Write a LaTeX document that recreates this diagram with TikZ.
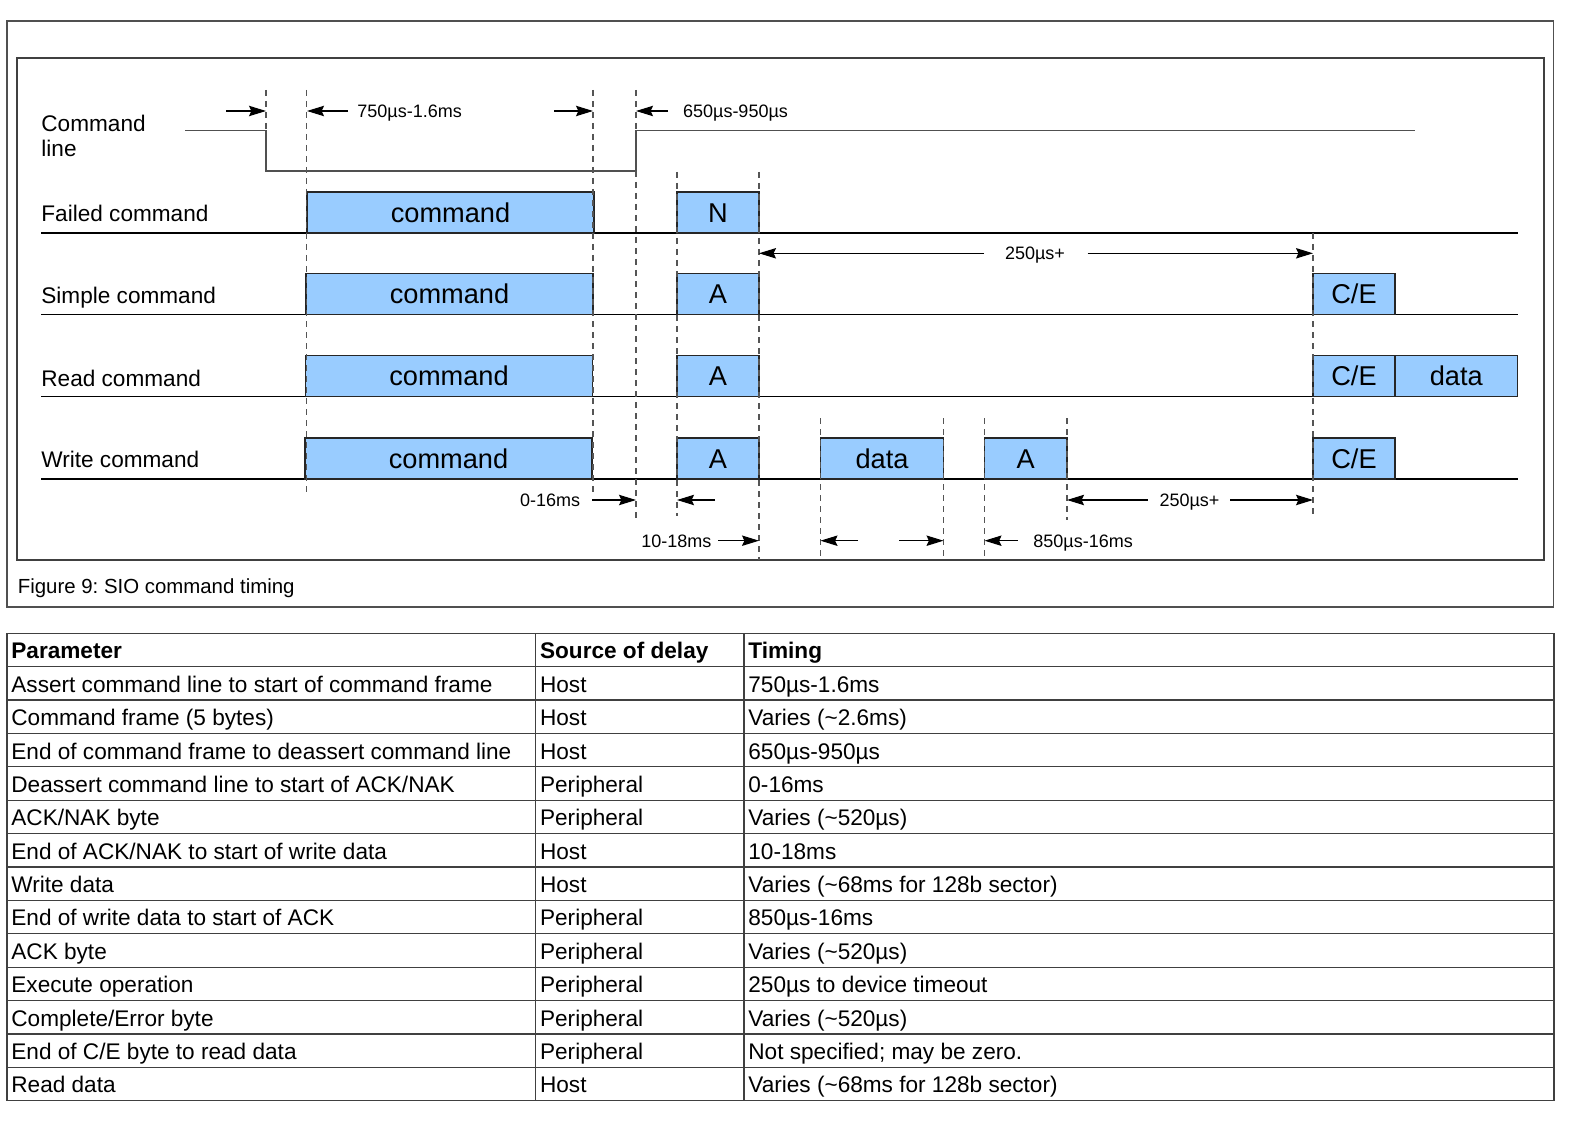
\documentclass[tikz,border=0pt]{standalone}
\usepackage{fontspec}
\setmainfont{Liberation Sans}
\usetikzlibrary{arrows.meta}
\frenchspacing
\definecolor{boxblue}{HTML}{99CCFF}
\definecolor{framegray}{HTML}{505050}
\definecolor{siggray}{HTML}{505050}
\definecolor{guidegray}{HTML}{555555}
\newcommand\blkbox[5]{\node[blk, minimum width={(#3-#2)*0.5pt}] (#1) at ({(#2+#3)/2},{#4-20.5}) {#5};}
\newcommand\guideline[4]{\coordinate (#1a) at (#2,#3); \coordinate (#1b) at (#2,#4); \draw[guide] (#1a) -- (#1b);}
\newcommand\dimarrow[4]{\coordinate (#1s) at (#2,#4); \coordinate (#1e) at (#3,#4); \draw[dimarr] (#1s) -- (#1e);}
\newcommand\trow[4]{%
  \node[tcell] (tp#1) at (11,{633.3+(#1+0.5)*33.386+0.8}) {#2};
  \node[tcell] (ts#1) at (539.7,{633.3+(#1+0.5)*33.386+0.8}) {#3};
  \node[tcell] (tt#1) at (748,{633.3+(#1+0.5)*33.386+0.8}) {#4};}
\begin{document}
\begin{tikzpicture}[x=0.5pt,y=-0.5pt,
  frame/.style={draw=framegray, line width=0.65pt},
  sig/.style={draw=siggray, line width=0.75pt},
  baseln/.style={draw=black, line width=0.6pt},
  guide/.style={draw=guidegray, line width=0.6pt, dash pattern=on 3pt off 2.5pt},
  blk/.style={draw=black!85, line width=0.6pt, fill=boxblue, inner sep=0pt, outer sep=0pt,
    font=\fontsize{13.6}{15}\selectfont, text height=9.7pt, text depth=0pt, minimum height=20.5pt},
  lbl/.style={anchor=base west, font=\fontsize{11.3}{12.5}\selectfont, inner sep=0pt, align=left},
  dimtxt/.style={font=\fontsize{9}{11}\selectfont, inner sep=0pt, text height=6.45pt, text depth=0pt},
  dimarr/.style={-{Stealth[length=8.5pt,width=5.2pt,inset=1.2pt]}, line width=0.55pt, draw=black},
  tline/.style={draw=black!75, line width=0.6pt},
  tcell/.style={anchor=west, font=\fontsize{11.3}{13}\selectfont, inner sep=0pt, text height=8.1pt, text depth=0pt}]
\useasboundingbox (0,0) rectangle (1573,1123);
% frames
\draw[frame] (7,21) rectangle (1553.5,607);
\draw[frame, draw=black!75] (17,58) rectangle (1544,560);
% command line signal
\coordinate (cl0) at (185,130.7);
\coordinate (cl1) at (266,130.7);
\coordinate (cl2) at (266,171);
\coordinate (cl3) at (636,171);
\coordinate (cl4) at (636,130.7);
\coordinate (cl5) at (1415,130.7);
\draw[sig] (cl0) -- (cl1) -- (cl2) -- (cl3) -- (cl4) -- (cl5);
% row baselines
\foreach \r/\y in {f/233,s/314.3,r/396.7,w/479}{
  \coordinate (bl\r0) at (41,\y); \coordinate (bl\r1) at (1517.5,\y);
  \draw[baseln] (bl\r0) -- (bl\r1);}
% boxes
\blkbox{fcmd}{307}{594}{233}{command}
\blkbox{fN}{677}{759}{233}{N}
\blkbox{scmd}{306}{593}{314.3}{command}
\blkbox{sA}{677}{759}{314.3}{A}
\blkbox{sCE}{1313}{1395}{314.3}{C/E}
\blkbox{rcmd}{305.5}{592.5}{396.7}{command}
\blkbox{rA}{677}{759}{396.7}{A}
\blkbox{rCE}{1313}{1395}{396.7}{C/E}
\blkbox{rdata}{1395}{1517.5}{396.7}{data}
\blkbox{wcmd}{305}{592}{479}{command}
\blkbox{wA}{677}{759}{479}{A}
\blkbox{wdata}{820.5}{943.5}{479}{data}
\blkbox{wA2}{984.5}{1067}{479}{A}
\blkbox{wCE}{1313}{1395}{479}{C/E}
% guides
\guideline{g1}{266}{90}{130.7}
\guideline{g2}{306.5}{90}{493}
\guideline{g3}{593}{90}{493}
\guideline{g4}{636}{90}{130.7}
\guideline{g5}{636}{171}{518}
\guideline{g6}{677}{172}{516}
\guideline{g7}{759}{172}{560}
\guideline{g8}{820.5}{418}{557}
\guideline{g9}{943.5}{418}{557}
\guideline{g10}{984.5}{418}{557}
\guideline{g11}{1067}{418}{520}
\guideline{g12}{1313}{233}{517}
% dimension arrows
\dimarrow{d1}{226}{266}{111}
\dimarrow{d2}{348}{307}{111}
\node[dimtxt, anchor=west] (t750) at (357,111) {750µs-1.6ms};
\dimarrow{d3}{554}{593}{111}
\dimarrow{d4}{668}{636}{111}
\node[dimtxt, anchor=west] (t650) at (682.7,111) {650µs-950µs};
\dimarrow{d5}{984}{759}{253.3}
\node[dimtxt] (t250a) at (1035,253.3) {250µs+};
\dimarrow{d6}{1087.5}{1313}{253.3}
\node[dimtxt, anchor=east] (t016) at (580.6,500) {0-16ms};
\dimarrow{d7}{592}{636}{500}
\dimarrow{d8}{715}{677}{500}
\dimarrow{d9}{1147.7}{1067}{500}
\node[dimtxt] (t250b) at (1189.5,500) {250µs+};
\dimarrow{d10}{1230}{1313}{500}
\node[dimtxt, anchor=east] (t1018) at (711.7,540.7) {10-18ms};
\dimarrow{d11}{718}{759}{540.7}
\dimarrow{d12}{858}{820.5}{540.7}
\dimarrow{d13}{899}{943.5}{540.7}
\dimarrow{d14}{1017.7}{984.5}{540.7}
\node[dimtxt, anchor=west] (t850) at (1033,540.7) {850µs-16ms};
% row labels
\node[lbl] (lcmd) at (41,156.5) {Command\\line};
\node[lbl] (lfail) at (41,221) {Failed command};
\node[lbl] (lsimp) at (41,303) {Simple command};
\node[lbl] (lread) at (41,386) {Read command};
\node[lbl] (lwrite) at (41,467) {Write command};
% caption
\node[anchor=base west, inner sep=0pt, font=\fontsize{10.2}{12}\selectfont] (cap) at (17.5,593) {Figure 9: SIO command timing};
% table
\draw[tline] (7,633.3) rectangle (1554,1100.7);
\foreach \k in {1,...,13}{\draw[tline] (7,{633.3+\k*33.386}) -- (1554,{633.3+\k*33.386});}
\draw[tline] (535.7,633.3) -- (535.7,1100.7);
\draw[tline] (744,633.3) -- (744,1100.7);
\trow{0}{\bfseries Parameter}{\bfseries Source of delay}{\bfseries Timing}
\trow{1}{Assert command line to start of command frame}{Host}{750µs-1.6ms}
\trow{2}{Command frame (5 bytes)}{Host}{Varies (\textasciitilde2.6ms)}
\trow{3}{End of command frame to deassert command line}{Host}{650µs-950µs}
\trow{4}{Deassert command line to start of ACK/NAK}{Peripheral}{0-16ms}
\trow{5}{ACK/NAK byte}{Peripheral}{Varies (\textasciitilde520µs)}
\trow{6}{End of ACK/NAK to start of write data}{Host}{10-18ms}
\trow{7}{Write data}{Host}{Varies (\textasciitilde68ms for 128b sector)}
\trow{8}{End of write data to start of ACK}{Peripheral}{850µs-16ms}
\trow{9}{ACK byte}{Peripheral}{Varies (\textasciitilde520µs)}
\trow{10}{Execute operation}{Peripheral}{250µs to device timeout}
\trow{11}{Complete/Error byte}{Peripheral}{Varies (\textasciitilde520µs)}
\trow{12}{End of C/E byte to read data}{Peripheral}{Not specified; may be zero.}
\trow{13}{Read data}{Host}{Varies (\textasciitilde68ms for 128b sector)}
\end{tikzpicture}
\end{document}
